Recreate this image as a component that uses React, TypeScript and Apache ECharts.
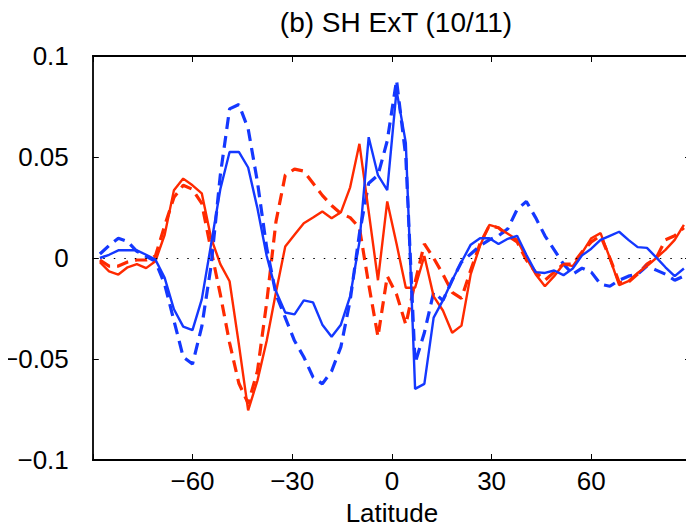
import React, { useEffect, useRef } from "react";
import * as echarts from "echarts";

const latitudes = [
  -87.86, -85.1, -82.31, -79.53, -76.74, -73.95, -71.16, -68.37, -65.58, -62.79,
  -60.0, -57.21, -54.42, -51.63, -48.84, -46.05, -43.25, -40.46, -37.67, -34.88,
  -32.09, -29.3, -26.51, -23.72, -20.93, -18.14, -15.35, -12.56, -9.77, -6.98,
  -4.19, -1.4, 1.4, 4.19, 6.98, 9.77, 12.56, 15.35, 18.14, 20.93,
  23.72, 26.51, 29.3, 32.09, 34.88, 37.67, 40.46, 43.25, 46.05, 48.84,
  51.63, 54.42, 57.21, 60.0, 62.79, 65.58, 68.37, 71.16, 73.95, 76.74,
  79.53, 82.31, 85.1, 87.86,
];

const blueSolid = [
  0.0, 0.0016, 0.0038, 0.0038, 0.0038, 0.0016, -0.0008, -0.0098, -0.0254, -0.034,
  -0.0357, -0.0205, 0.0066, 0.034, 0.0525, 0.0525, 0.0448, 0.0246, 0.001, -0.0164,
  -0.027, -0.0279, -0.021, -0.022, -0.033, -0.039, -0.033, -0.019, 0.008, 0.0598,
  0.041, 0.0336, 0.083, 0.057, -0.0648, -0.0623, -0.0295, -0.021, -0.011, -0.002,
  0.0066, 0.0098, 0.0098, 0.0069, 0.0095, 0.011, 0.0016, -0.007, -0.0074, -0.0062,
  -0.0085, -0.0052, 0.0013, 0.0046, 0.009, 0.011, 0.013, 0.009, 0.0054, 0.005,
  0.0003, -0.0046, -0.009, -0.0052,
];

const blueDashed = [
  0.002, 0.0062, 0.0098, 0.0082, 0.0033, 0.0008, -0.0016, -0.013, -0.031, -0.049,
  -0.0525, -0.034, -0.004, 0.041, 0.0738, 0.076, 0.064, 0.0377, 0.005, -0.018,
  -0.0295, -0.041, -0.049, -0.059, -0.0623, -0.056, -0.044, -0.021, 0.012, 0.037,
  0.041, 0.058, 0.088, 0.05, -0.052, -0.037, -0.017, -0.021, -0.011, -0.002,
  0.002, 0.006, 0.009, 0.011, 0.0145, 0.024, 0.028, 0.02, 0.011, 0.004,
  -0.003, -0.008, -0.005, -0.007, -0.013, -0.014, -0.011, -0.009, -0.008, -0.004,
  -0.006, -0.008, -0.011, -0.009,
];

const redSolid = [
  -0.002, -0.0066, -0.0082, -0.0046, -0.003, -0.005, -0.0016, 0.0115, 0.0336, 0.0393,
  0.036, 0.032, 0.01, -0.003, -0.0115, -0.0426, -0.0754, -0.0607, -0.041, -0.017,
  0.0057, 0.0115, 0.0172, 0.02, 0.023, 0.0197, 0.0226, 0.035, 0.0565, 0.023,
  -0.011, 0.028, 0.007, -0.0147, -0.0147, 0.001, -0.019, -0.026, -0.037, -0.0335,
  -0.008, 0.006, 0.0164, 0.015, 0.012, 0.009, 0.0, -0.008, -0.014, -0.009,
  -0.003, -0.004, 0.0025, 0.0098, 0.0123, 0.0, -0.0134, -0.0115, -0.0074, -0.004,
  0.0, 0.004, 0.009, 0.0164,
];

const redDashed = [
  -0.001, -0.004, -0.004, -0.002, -0.001, -0.001, 0.001, 0.016, 0.03, 0.036,
  0.034, 0.027, 0.004, -0.018, -0.042, -0.062, -0.072, -0.056, -0.022, 0.018,
  0.041, 0.044, 0.043, 0.037, 0.031, 0.026, 0.022, 0.02, 0.015, -0.013,
  -0.039, -0.009, -0.018, -0.033, -0.012, 0.007, 0.0, -0.008, -0.017, -0.02,
  -0.006, 0.007, 0.016, 0.015, 0.011, 0.008, -0.001, -0.007, -0.011, -0.007,
  -0.003, -0.003, 0.003, 0.008, 0.011, 0.0, -0.012, -0.012, -0.008, -0.003,
  0.0, 0.009, 0.011, 0.015,
];

const titleText = "(b) SH ExT (10/11)";
const xAxisName = "Latitude";

const BLUE = "#1438ff";
const RED = "#ff2a00";
const FONT = "'Liberation Sans', Arial, Helvetica, sans-serif";

const pairs = (vals: number[]) => latitudes.map((lat, i) => [lat, vals[i]]);

const fmtY = (v: number) => {
  if (Math.abs(v) < 1e-9) return "0";
  const s = Math.abs(v).toFixed(2).replace(/0+$/, "");
  return (v < 0 ? "\u2212" : "") + s;
};
const fmtX = (v: number) => {
  if (Math.abs(v) >= 90) return "";
  if (v === 0) return "0";
  return (v < 0 ? "\u2212" : "") + Math.abs(v);
};

export default function App() {
  const ref = useRef<HTMLDivElement>(null);
  useEffect(() => {
    if (!ref.current) return;
    const chart = echarts.init(ref.current, null, { renderer: "svg" });
    const axisCommon = {
      axisLine: { show: true, onZero: false, lineStyle: { color: "#000", width: 1.8 } },
      axisTick: { show: true, inside: true, length: 6, lineStyle: { color: "#000", width: 1 } },
      splitLine: { show: false },
    };
    chart.setOption({
      animation: false,
      backgroundColor: "#fff",
      title: {
        text: titleText,
        left: 391,
        top: 3,
        textAlign: "center",
        textStyle: { fontFamily: FONT, fontSize: 28, fontWeight: "normal", color: "#000" },
      },
      grid: { left: 87, top: 56, right: -3, bottom: 68, containLabel: false },
      xAxis: [
        {
          type: "value",
          min: -90,
          max: 90,
          interval: 30,
          position: "bottom",
          ...axisCommon,
          axisLabel: {
            formatter: fmtX,
            fontFamily: FONT,
            fontSize: 26,
            color: "#000",
            margin: 8,
          },
          name: xAxisName,
          nameLocation: "middle",
          nameGap: 40,
          nameTextStyle: { fontFamily: FONT, fontSize: 26, color: "#000" },
        },
        {
          type: "value",
          min: -90,
          max: 90,
          interval: 30,
          position: "top",
          ...axisCommon,
          axisLabel: { show: false },
        },
      ],
      yAxis: [
        {
          type: "value",
          min: -0.1,
          max: 0.1,
          interval: 0.05,
          position: "left",
          ...axisCommon,
          axisLabel: {
            formatter: fmtY,
            fontFamily: FONT,
            fontSize: 26,
            color: "#000",
            margin: 24,
          },
        },
        {
          type: "value",
          min: -0.1,
          max: 0.1,
          interval: 0.05,
          position: "right",
          ...axisCommon,
          axisLabel: { show: false },
        },
      ],
      series: [
        {
          type: "line",
          data: pairs(redDashed),
          showSymbol: false,
          symbol: "none",
          lineStyle: { color: RED, width: 3.2, type: [12, 7] },
          markLine: {
            silent: true,
            symbol: "none",
            label: { show: false },
            lineStyle: { color: "#000", width: 1.2, type: [1.5, 9] },
            data: [{ yAxis: 0 }],
          },
        },
        {
          type: "line",
          data: pairs(blueDashed),
          showSymbol: false,
          symbol: "none",
          lineStyle: { color: BLUE, width: 3.2, type: [12, 7] },
        },
        {
          type: "line",
          data: pairs(redSolid),
          showSymbol: false,
          symbol: "none",
          lineStyle: { color: RED, width: 2.4 },
        },
        {
          type: "line",
          data: pairs(blueSolid),
          showSymbol: false,
          symbol: "none",
          lineStyle: { color: BLUE, width: 2.4 },
        },
      ],
    });
    return () => chart.dispose();
  }, []);
  return <div ref={ref} style={{ width: 694, height: 531, margin: -8 }} />;
}
